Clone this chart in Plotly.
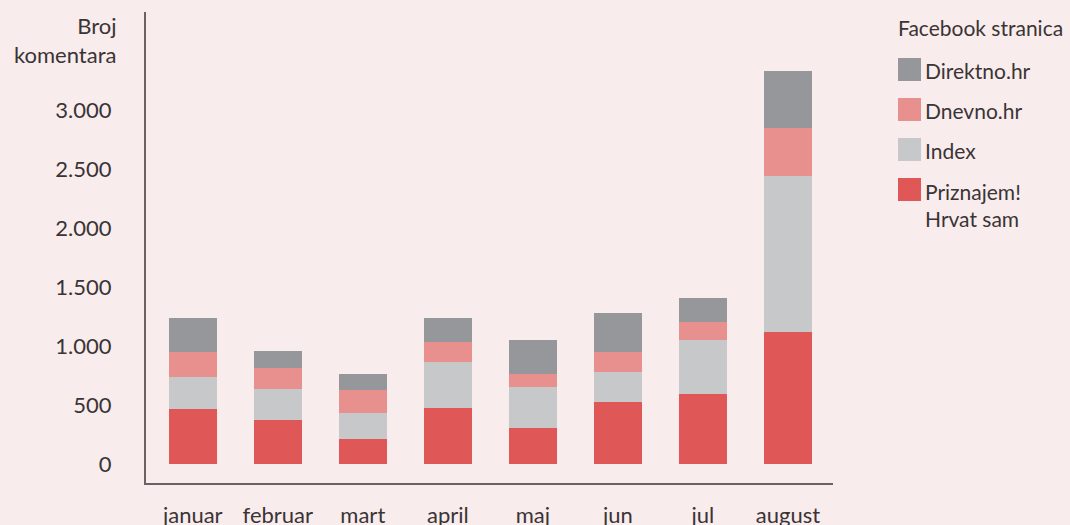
import plotly.graph_objects as go

months = ["januar", "februar", "mart", "april", "maj", "jun", "jul", "august"]
priznajem = [466, 373, 212, 475, 305, 525, 593, 1119]
index_vals = [271, 263, 220, 389, 348, 255, 458, 1322]
dnevno = [215, 178, 195, 170, 110, 169, 152, 406]
direktno = [285, 144, 136, 203, 288, 331, 204, 484]

series = [
    ("Priznajem!<br>Hrvat sam", priznajem, "#e05758"),
    ("Index", index_vals, "#c7c8ca"),
    ("Dnevno.hr", dnevno, "#e8908e"),
    ("Direktno.hr", direktno, "#96979b"),
]

tickvals = [0, 500, 1000, 1500, 2000, 2500, 3000]
ticktext = ["0", "500", "1.000", "1.500", "2.000", "2.500", "3.000"]

W, H = 1070, 525
L, R, T, B = 146, 237, 12, 42
pw, ph = W - L - R, H - T - B

def px_x(x):
    return (x - L) / pw

def px_y(y):
    return (H - B - y) / ph

FONT = "Lato"
TXT = "#3a3436"
BG = "#f9ecec"
AX = "#6b6363"

fig = go.Figure()
for name, vals, col in series:
    fig.add_trace(go.Bar(x=months, y=vals, name=name, marker=dict(color=col, line=dict(width=0)),
                         width=0.565, showlegend=False))

fig.update_layout(
    width=W, height=H, barmode="stack",
    paper_bgcolor=BG, plot_bgcolor=BG,
    margin=dict(l=L, r=R, t=T, b=B, autoexpand=False),
    font=dict(family=FONT, size=22, color=TXT),
    xaxis=dict(range=[-0.55, 7.53], showline=True, linecolor=AX, linewidth=2,
               showgrid=False, zeroline=False, ticks="", ticklabelstandoff=12,
               tickfont=dict(size=22, color=TXT)),
    yaxis=dict(range=[-161, 3830], showline=True, linecolor=AX, linewidth=2,
               showgrid=False, zeroline=False, ticks="", tickvals=tickvals,
               ticktext=ticktext, ticklabelstandoff=28,
               tickfont=dict(size=22, color=TXT)),
)

fig.add_annotation(xref="paper", yref="paper", x=px_x(118), y=px_y(40.5),
                   xanchor="right", yanchor="middle", align="right",
                   text="Broj<br>komentara", showarrow=False,
                   font=dict(size=22, color=TXT, family=FONT))

# manual legend
fig.add_annotation(xref="paper", yref="paper", x=px_x(896), y=px_y(28),
                   xanchor="left", yanchor="middle", text="Facebook stranica",
                   showarrow=False, font=dict(size=21, color=TXT, family=FONT))
centers = [69.5, 109.5, 149.5, 189.5]
for (name, vals, col), cy in zip(series[::-1], centers):
    fig.add_shape(type="rect", xref="paper", yref="paper",
                  x0=px_x(898), x1=px_x(921), y0=px_y(cy + 11.5), y1=px_y(cy - 11.5),
                  fillcolor=col, line=dict(width=0))
    multi = "<br>" in name
    fig.add_annotation(xref="paper", yref="paper", x=px_x(923),
                       y=px_y(cy - 13) if multi else px_y(cy + 1),
                       xanchor="left", yanchor="top" if multi else "middle", align="left",
                       text=name, showarrow=False,
                       font=dict(size=21, color=TXT, family=FONT))

fig.write_html("out.html", config={"displayModeBar": False},
               post_script="document.body.style.margin='0';document.body.style.background='%s';" % BG)
